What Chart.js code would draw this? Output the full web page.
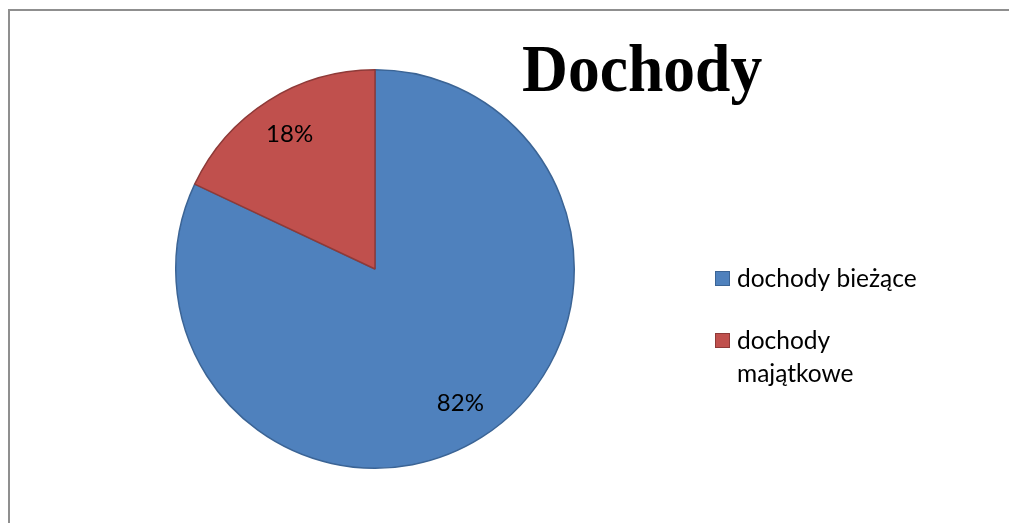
<!DOCTYPE html>
<html>
<head>
<meta charset="utf-8">
<script src="https://cdn.jsdelivr.net/npm/chart.js@4.4.1/dist/chart.umd.min.js"></script>
<style>
  html, body { margin: 0; padding: 0; background: #ffffff; overflow: hidden; }
  #wrap { position: relative; width: 1009px; height: 523px; }
  canvas { display: block; }
</style>
</head>
<body>
<div id="wrap"><canvas id="c" width="1009" height="523"></canvas></div>
<script>
// ---- data ----
const titleText = 'Dochody';
const categories = ['dochody bieżące', 'dochody majątkowe'];
const values = [82, 18];
const legendLines = [['dochody bieżące'], ['dochody', 'majątkowe']];
const fillColors = ['#4F81BD', '#C0504D'];
const edgeColors = ['#3B6495', '#8E3A38'];

const labelFont = '"Lato", "Liberation Sans", sans-serif';

const overlay = {
  id: 'overlay',
  beforeDraw(chart) {
    const ctx = chart.ctx;
    ctx.save();
    ctx.fillStyle = '#ffffff';
    ctx.fillRect(0, 0, chart.width, chart.height);
    ctx.fillStyle = '#8f8f8f';
    ctx.fillRect(8, 9, chart.width - 8, 2);
    ctx.fillRect(8, 9, 2, chart.height - 9);
    ctx.restore();
  },
  afterDatasetsDraw(chart) {
    const ctx = chart.ctx;
    const meta = chart.getDatasetMeta(0);
    const total = values.reduce((a, b) => a + b, 0);
    ctx.save();
    // percentage labels
    ctx.fillStyle = '#000000';
    ctx.font = '24px ' + labelFont;
    ctx.textAlign = 'center';
    ctx.textBaseline = 'middle';
    meta.data.forEach((arc, i) => {
      const p = arc.getProps(['x', 'y', 'startAngle', 'endAngle', 'outerRadius'], true);
      const mid = (p.startAngle + p.endAngle) / 2;
      const r = p.outerRadius * 0.8;
      const pct = Math.round(values[i] / total * 100) + '%';
      ctx.fillText(pct, p.x + Math.cos(mid) * r, p.y + Math.sin(mid) * r);
    });
    // title
    ctx.save();
    ctx.font = 'bold 68px "Liberation Serif", "Times New Roman", serif';
    ctx.textAlign = 'left';
    ctx.textBaseline = 'alphabetic';
    ctx.translate(522, 91);
    ctx.scale(0.935, 1);
    ctx.fillText(titleText, 0, 0);
    ctx.restore();
    // legend
    ctx.font = '24.5px ' + labelFont;
    ctx.textAlign = 'left';
    ctx.textBaseline = 'alphabetic';
    const firstBase = [287, 349];
    const lineGap = 33;
    categories.forEach((c, i) => {
      const base = firstBase[i];
      ctx.fillStyle = fillColors[i];
      ctx.fillRect(715, base - 16, 15, 15);
      ctx.strokeStyle = edgeColors[i];
      ctx.lineWidth = 1;
      ctx.strokeRect(715.5, base - 15.5, 14, 14);
      ctx.fillStyle = '#000000';
      legendLines[i].forEach((ln, j) => {
        ctx.fillText(ln, 737, base + j * lineGap);
      });
    });
    ctx.restore();
  }
};

new Chart(document.getElementById('c'), {
  type: 'pie',
  data: {
    labels: categories,
    datasets: [{
      data: values,
      backgroundColor: fillColors,
      borderColor: edgeColors,
      borderWidth: 1.5
    }]
  },
  options: {
    responsive: false,
    animation: false,
    events: [],
    layout: { padding: { left: 175, right: 434, top: 69, bottom: 54 } },
    plugins: {
      legend: { display: false },
      title: { display: false },
      tooltip: { enabled: false }
    }
  },
  plugins: [overlay]
});
</script>
</body>
</html>
